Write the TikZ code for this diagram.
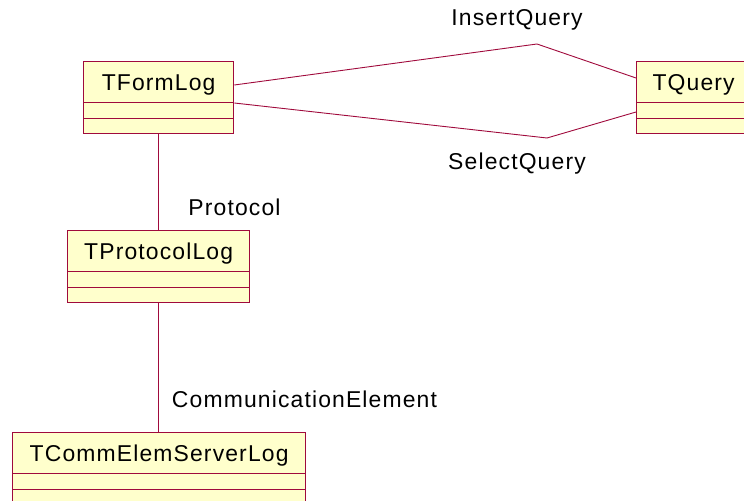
\documentclass[tikz,border=0pt]{standalone}
\usepackage{fontspec}
\setmainfont{Liberation Sans}[LetterSpace=5]
\definecolor{umlline}{RGB}{160,10,60}
\definecolor{umlfill}{RGB}{255,255,204}
\begin{document}
\begin{tikzpicture}[x=1bp,y=-1bp,
  umlfont/.style={font=\fontsize{23}{27}\selectfont},
  classbox/.style={draw=umlline, fill=umlfill, line width=1.3bp,
    minimum width=#1, inner xsep=0pt, inner ysep=0pt,
    text height=29bp, text depth=43bp, anchor=north west, umlfont,
    path picture={
      \draw[umlline, line width=1bp]
        ([yshift=-41bp]path picture bounding box.north west) --
        ([yshift=-41bp]path picture bounding box.north east)
        ([yshift=-57bp]path picture bounding box.north west) --
        ([yshift=-57bp]path picture bounding box.north east);}},
  assoc/.style={draw=umlline, line width=0.9bp},
  rolelabel/.style={anchor=base, inner sep=0pt, umlfont}]

\useasboundingbox (0,0) rectangle (744,501);

% classes
\node[classbox=150bp] (formlog) at (83,61) {TFormLog};
\node[classbox=114bp] (query) at (636,61) {TQuery};
\node[classbox=182bp] (protolog) at (67,230) {TProtocolLog};
\node[classbox=293bp] (commlog) at (12,432) {TCommElemServerLog};

% bends of the two associations between TFormLog and TQuery
\coordinate (insbend) at (537,44);
\coordinate (selbend) at (547,138);

% associations
\draw[assoc] ([yshift=-24bp]formlog.north east) -- (insbend) -- ([yshift=-17bp]query.north west);
\draw[assoc] ([yshift=-42bp]formlog.north east) -- (selbend) -- ([yshift=-51bp]query.north west);
\draw[assoc] (formlog.south) -- (protolog.north -| formlog.south);
\draw[assoc] (protolog.south -| formlog.south) -- (commlog.north -| formlog.south);

% role names
\node[rolelabel] (insname) at (517,26) {InsertQuery};
\node[rolelabel] (selname) at (517,170) {SelectQuery};
\node[rolelabel] (protname) at (234.5,216) {Protocol};
\node[rolelabel] (commname) at (304.5,407) {CommunicationElement};
\end{tikzpicture}
\end{document}
